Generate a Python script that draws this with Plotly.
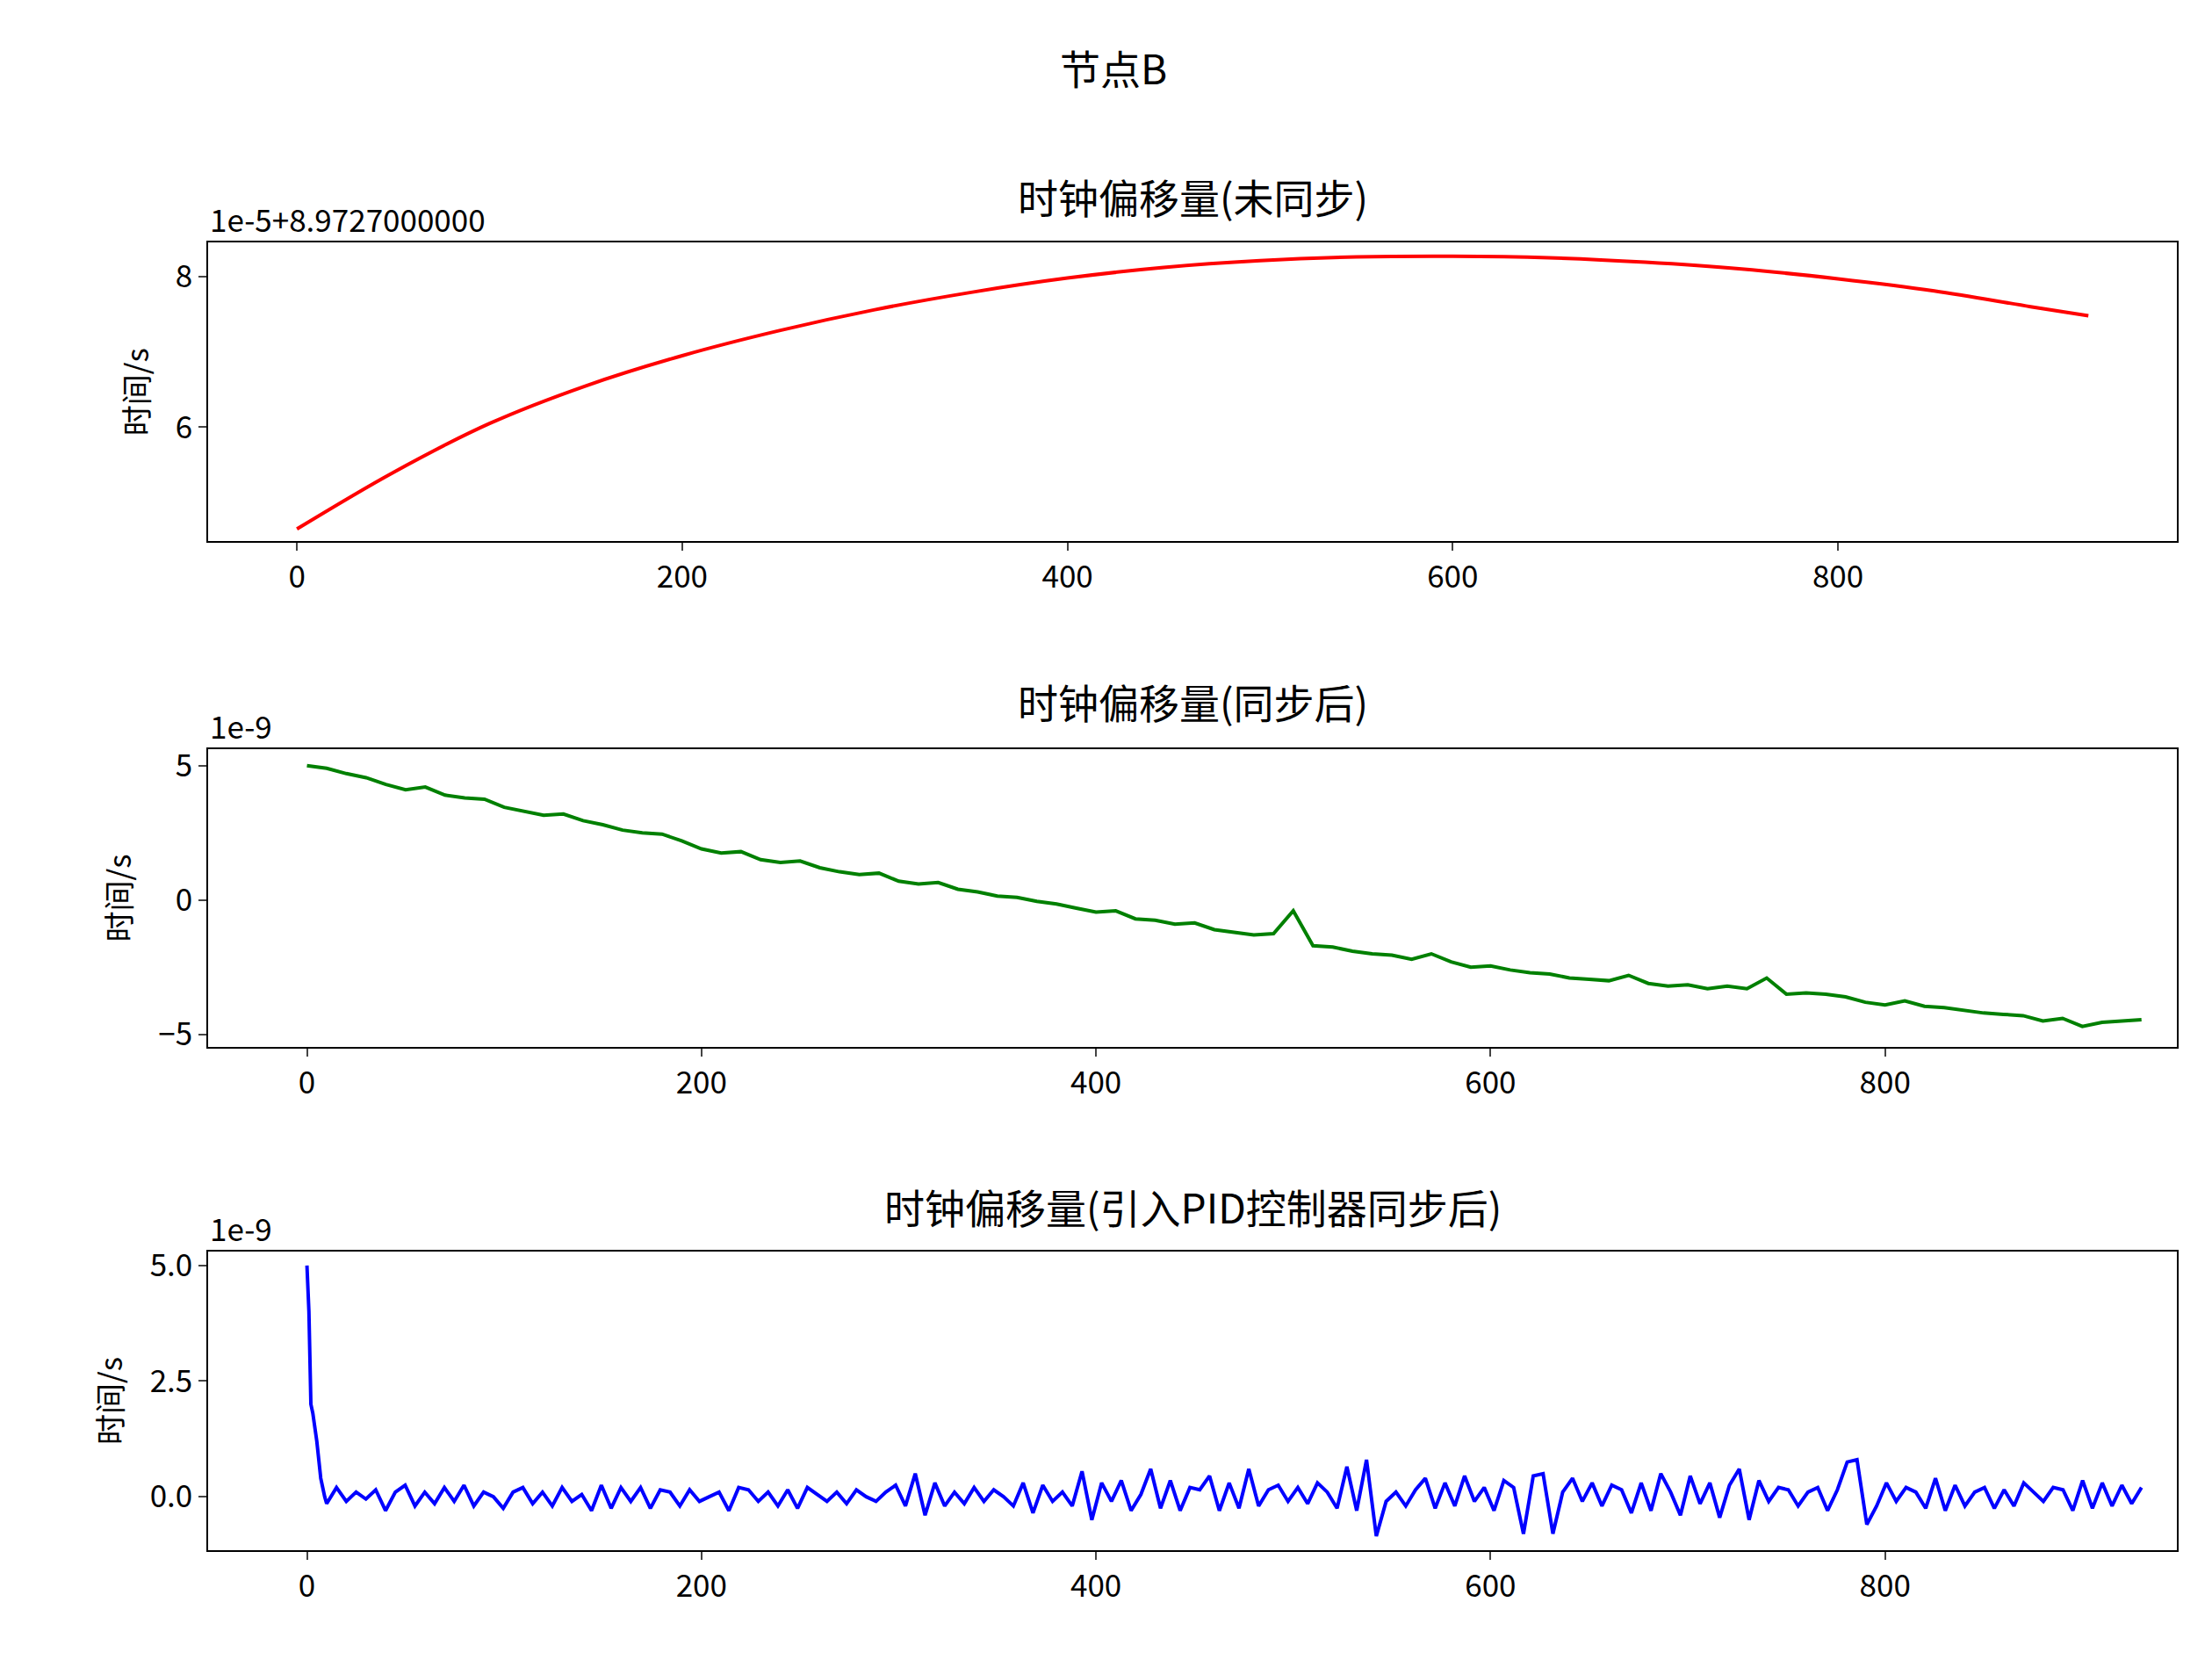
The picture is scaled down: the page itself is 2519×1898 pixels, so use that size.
import plotly.graph_objects as go

FONT = "Noto Sans CJK SC"

# top panel: offset from 8.9727 in units of 1e-5
x_top = [0, 50, 100, 150, 200, 250, 300, 350, 400, 450, 500, 550, 600, 650, 700, 750, 800, 850, 900, 930]
y_top = [4.65, 5.4, 6.05, 6.55, 6.95, 7.28, 7.56, 7.79, 7.98, 8.12, 8.21, 8.26, 8.27, 8.25, 8.19, 8.1, 7.97, 7.81, 7.6, 7.48]

# middle panel, units of 1e-9, every 10 steps
y_mid = [5.0, 4.9, 4.7, 4.55, 4.3, 4.1, 4.2, 3.9, 3.8, 3.75, 3.45, 3.3, 3.15, 3.2, 2.95, 2.8, 2.6, 2.5, 2.45, 2.2,
         1.9, 1.75, 1.8, 1.5, 1.4, 1.45, 1.2, 1.05, 0.95, 1.0, 0.7, 0.6, 0.65, 0.4, 0.3, 0.15, 0.1, -0.05, -0.15, -0.3,
         -0.45, -0.4, -0.7, -0.75, -0.9, -0.85, -1.1, -1.2, -1.3, -1.25, -0.4, -1.7, -1.75, -1.9, -2.0, -2.05, -2.2, -2.0, -2.3, -2.5,
         -2.45, -2.6, -2.7, -2.75, -2.9, -2.95, -3.0, -2.8, -3.1, -3.2, -3.15, -3.3, -3.2, -3.3, -2.9, -3.5, -3.45, -3.5, -3.6, -3.8,
         -3.9, -3.75, -3.95, -4.0, -4.1, -4.2, -4.25, -4.3, -4.5, -4.4, -4.7, -4.55, -4.5, -4.45]
x_mid = [10 * i for i in range(len(y_mid))]

# bottom panel, units of 1e-9
x_bot_head = [0, 1, 2, 3, 5, 7, 9]
y_bot = [5.0, 4.0, 2.0, 1.8, 1.2, 0.4, 0.0,
         -0.15, 0.2, -0.1, 0.1, -0.05, 0.15, -0.3, 0.1, 0.25, -0.2, 0.1, -0.15, 0.2, -0.1,
         0.25, -0.2, 0.1, 0.0, -0.25, 0.1, 0.2, -0.15, 0.1, -0.2, 0.2, -0.1, 0.05, -0.3, 0.25, -0.25,
         0.2, -0.1, 0.2, -0.25, 0.15, 0.1, -0.2, 0.15, -0.1, 0.0, 0.1, -0.3, 0.2, 0.15, -0.1, 0.1,
         -0.2, 0.15, -0.25, 0.2, 0.05, -0.1, 0.1, -0.15, 0.15, 0.0, -0.1, 0.1, 0.25, -0.2, 0.5, -0.4,
         0.3, -0.2, 0.1, -0.15, 0.2, -0.1, 0.15, 0.0, -0.2, 0.3, -0.35, 0.25, -0.1, 0.1, -0.2, 0.55,
         -0.5, 0.3, -0.1, 0.35, -0.3, 0.05, 0.6, -0.25, 0.35, -0.3, 0.2, 0.15, 0.45, -0.3, 0.3, -0.25,
         0.6, -0.2, 0.15, 0.25, -0.1, 0.2, -0.15, 0.3, 0.1, -0.25, 0.65, -0.3, 0.8, -0.85, -0.1, 0.1,
         -0.2, 0.15, 0.4, -0.25, 0.3, -0.2, 0.45, -0.1, 0.2, -0.3, 0.35, 0.2, -0.8, 0.45, 0.5, -0.8,
         0.1, 0.4, -0.1, 0.3, -0.2, 0.25, 0.15, -0.35, 0.3, -0.3, 0.5, 0.1, -0.4, 0.45, -0.15, 0.3,
         -0.45, 0.25, 0.6, -0.5, 0.35, -0.1, 0.2, 0.15, -0.2, 0.1, 0.2, -0.3, 0.15, 0.75, 0.8, -0.6,
         -0.2, 0.3, -0.1, 0.2, 0.1, -0.25, 0.4, -0.3, 0.25, -0.2, 0.1, 0.2, -0.25, 0.15, -0.2, 0.3,
         0.1, -0.1, 0.2, 0.15, -0.3, 0.35, -0.25, 0.3, -0.2, 0.25, -0.15, 0.2]
n_rest = len(y_bot) - len(x_bot_head)
x_bot = x_bot_head + [10 + 920 * i / (n_rest - 1) for i in range(n_rest)]

fig = go.Figure()
fig.add_trace(go.Scatter(x=x_top, y=y_top, mode="lines", line=dict(color="red", width=4, shape="spline"),
                         xaxis="x", yaxis="y"))
fig.add_trace(go.Scatter(x=x_mid, y=y_mid, mode="lines", line=dict(color="green", width=4),
                         xaxis="x2", yaxis="y2"))
fig.add_trace(go.Scatter(x=x_bot, y=y_bot, mode="lines", line=dict(color="blue", width=4),
                         xaxis="x3", yaxis="y3"))

tick_font = dict(family=FONT, size=35, color="black")
ax_common = dict(showline=True, mirror=True, linecolor="black", linewidth=2, ticks="outside",
                 ticklen=9, tickwidth=2, showgrid=False, zeroline=False, tickfont=tick_font)
xd = [0.091, 0.981]
dy = 0.009

fig.update_layout(
    width=2519, height=1898, margin=dict(l=0, r=0, t=0, b=0),
    paper_bgcolor="white", plot_bgcolor="white", showlegend=False,
    xaxis=dict(domain=xd, range=[-46, 976], tickvals=[0, 200, 400, 600, 800], anchor="y", **ax_common),
    yaxis=dict(domain=[0.674 + dy, 0.855 + dy], range=[4.49, 8.45], tickvals=[6, 8], anchor="x",
               title=dict(text="时间/s", font=tick_font, standoff=20), **ax_common),
    xaxis2=dict(domain=xd, range=[-50, 948], tickvals=[0, 200, 400, 600, 800], anchor="y2", **ax_common),
    yaxis2=dict(domain=[0.367 + dy, 0.548 + dy], range=[-5.47, 5.625], tickvals=[-5, 0, 5], anchor="x2",
                title=dict(text="时间/s", font=tick_font, standoff=20), **ax_common),
    xaxis3=dict(domain=xd, range=[-50, 948], tickvals=[0, 200, 400, 600, 800], anchor="y3", **ax_common),
    yaxis3=dict(domain=[0.062 + dy, 0.243 + dy], range=[-1.15, 5.30], tickvals=[0, 2.5, 5],
                ticktext=["0.0", "2.5", "5.0"], anchor="x3",
                title=dict(text="时间/s", font=tick_font, standoff=20), **ax_common),
)

title_font = dict(family=FONT, size=46, color="black")
notes = [
    (0.5, 1 - 73 / 1898 + dy, "节点B", title_font, "center"),
    (0.536, 1 - 221 / 1898 + dy, "时钟偏移量(未同步)", title_font, "center"),
    (0.536, 1 - 803 / 1898 + dy, "时钟偏移量(同步后)", title_font, "center"),
    (0.536, 1 - 1384 / 1898 + dy, "时钟偏移量(引入PID控制器同步后)", title_font, "center"),
    (0.091, 0.855 + dy, "1e-5+8.9727000000", tick_font, "left"),
    (0.091, 0.548 + dy, "1e-9", tick_font, "left"),
    (0.091, 0.243 + dy, "1e-9", tick_font, "left"),
]
for x, y, text, font, anchor in notes:
    fig.add_annotation(x=x, y=y, xref="paper", yref="paper", text=text, font=font,
                       showarrow=False, xanchor=anchor,
                       yanchor="middle" if font is title_font else "bottom")

fig.write_html("out.html")
